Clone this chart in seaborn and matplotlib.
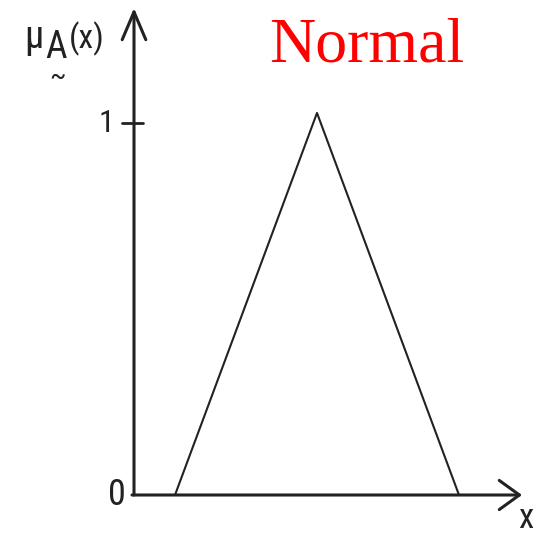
import matplotlib
matplotlib.use("Agg")
import matplotlib.pyplot as plt
import seaborn as sns
import pandas as pd

# triangular membership function: feet and peak
tri_x = [1.0, 2.0, 3.0]
tri_mu = [0.0, 1.027, 0.0]
ytick_vals = [0, 1]
ytick_labels = ["0", "1"]
title_text = "Normal"

sns.set_style("white")
plt.rcParams["font.family"] = ["Roboto Condensed", "Liberation Sans", "DejaVu Sans"]

W, H = 548, 534
fig = plt.figure(figsize=(W / 100, H / 100), dpi=100)
ax = fig.add_axes([0, 0, 1, 1])

# pixel mapping: x=1 -> 175px, 142 px per unit; y=0 -> 495px, 372 px per unit
px_x, x0p = 142.0, 175.0
px_y, y0p = 372.0, 495.0
ax.set_xlim(1 - x0p / px_x, 1 + (W - x0p) / px_x)
ax.set_ylim(-(H - y0p) / px_y, y0p / px_y)
ax.axis("off")


def xd(p):
    # pixel column -> data x
    return 1 + (p - x0p) / px_x


ink = "#222222"
df = pd.DataFrame({"x": tri_x, "mu": tri_mu})
sns.lineplot(data=df, x="x", y="mu", sort=False, color=ink, lw=1.5, ax=ax)

x_origin = xd(134)
y_tip = (y0p - 8) / px_y

ax.annotate("", xy=(xd(522), 0), xytext=(xd(132), 0),
            arrowprops=dict(arrowstyle="->,head_length=1.45,head_width=1.05", lw=2.2,
                            color=ink, mutation_scale=10, shrinkA=0, shrinkB=0))
ax.annotate("", xy=(x_origin, y_tip), xytext=(x_origin, 0),
            arrowprops=dict(arrowstyle="->,head_length=2.0,head_width=0.85", lw=2.2,
                            color=ink, mutation_scale=10, shrinkA=0, shrinkB=0))

# tick at 1
ax.plot([xd(122), xd(143)], [1, 1], color=ink, lw=2.0)

label_right = [126, 114]  # right edge of each tick label in px
label_size = [26, 23]
for v, lab, r, s in zip(ytick_vals, ytick_labels, label_right, label_size):
    ax.text(xd(r), v, lab, ha="right", va="center", fontsize=s, color=ink)

ax.text(xd(526), -24 / px_y, "x", ha="center", va="center", fontsize=25, color=ink)

# y-axis label  mu_A~(x)
fig.text(34 / W, 1 - 38 / H, "μ", ha="center", va="center", fontsize=28, color=ink)
fig.text(56 / W, 1 - 48 / H, "A", ha="center", va="center", fontsize=27, color=ink)
fig.text(57 / W, 1 - 84 / H, "~", ha="center", va="baseline", fontsize=20, color=ink)
fig.text(87 / W, 1 - 39 / H, "(x)", ha="center", va="center", fontsize=24, color=ink)

fig.text(367 / W, 1 - 47 / H, title_text, ha="center", va="center",
         fontsize=46, color="red", family=["Liberation Serif", "DejaVu Serif"])

fig.savefig("out.png", dpi=100)
